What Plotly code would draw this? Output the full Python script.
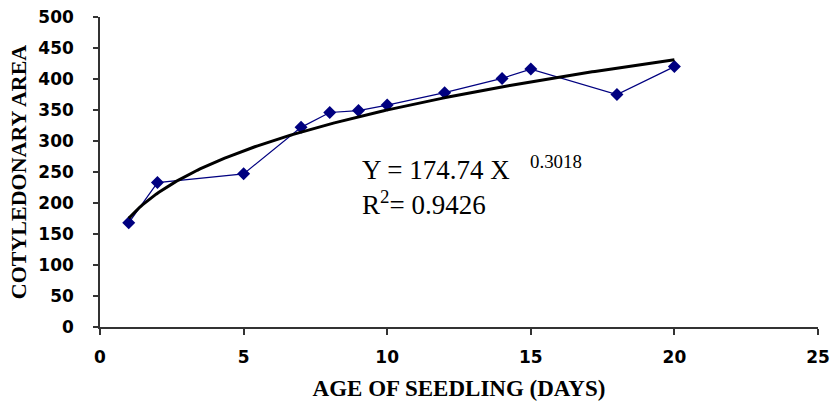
import plotly.graph_objects as go
import numpy as np

# measured cotyledonary area by seedling age
age_days = [1, 2, 5, 7, 8, 9, 10, 12, 14, 15, 18, 20]
cot_area = [168, 233, 247, 322, 346, 349, 358, 378, 401, 416, 375, 420]

eq_text = "Y = 174.74 X&nbsp;&nbsp;&nbsp;<sup>0.3018</sup><br>R<sup>2</sup>= 0.9426"

# power trendline fitted from the data (as the spreadsheet did)
b, log_a = np.polyfit(np.log(age_days), np.log(cot_area), 1)
x_fit = np.linspace(min(age_days), max(age_days), 200)
y_fit = np.exp(log_a) * x_fit ** b

fig = go.Figure()

fig.add_trace(
    go.Scatter(
        x=age_days,
        y=cot_area,
        mode='lines+markers',
        line=dict(color='#000080', width=1.2),
        marker=dict(symbol='diamond', size=10, color='#000080'),
        showlegend=False
    )
)

fig.add_trace(
    go.Scatter(
        x=x_fit,
        y=y_fit,
        mode='lines',
        line=dict(color='black', width=3),
        showlegend=False
    )
)

fig.add_annotation(
    x=9.05,
    y=229,
    xref='x',
    yref='y',
    xanchor='left',
    yanchor='middle',
    align='left',
    showarrow=False,
    text=eq_text,
    font=dict(family='Liberation Serif', size=27, color='black')
)

axis_common = dict(
    showgrid=False,
    zeroline=False,
    showline=True,
    automargin=False,
    linecolor='#333333',
    linewidth=1.5,
    ticks='outside',
    tickcolor='#333333',
    tickwidth=1.5,
    tickfont=dict(family='DejaVu Sans', size=17, color='black', weight='bold'),
)

fig.update_layout(
    width=831,
    height=404,
    margin=dict(l=100, r=13, t=17, b=77),
    paper_bgcolor='white',
    plot_bgcolor='white',

    xaxis=dict(
        range=[0, 25],
        dtick=5,
        ticklen=6,
        ticklabelstandoff=8,
        title=dict(
            text='AGE OF SEEDLING (DAYS)',
            font=dict(family='Liberation Serif', size=23, color='black', weight='bold'),
            standoff=14
        ),
        **axis_common
    ),

    yaxis=dict(
        range=[0, 500],
        dtick=50,
        ticklen=5,
        ticklabelstandoff=16,
        title=dict(
            text='COTYLEDONARY AREA',
            font=dict(family='Liberation Serif', size=22, color='black', weight='bold'),
            standoff=6
        ),
        **axis_common
    ),
)

# drop the page's default body margin so the figure sits at 0,0
fig.write_html(
    "out.html",
    config={'displayModeBar': False},
    post_script="document.body.style.margin='0px';"
)
